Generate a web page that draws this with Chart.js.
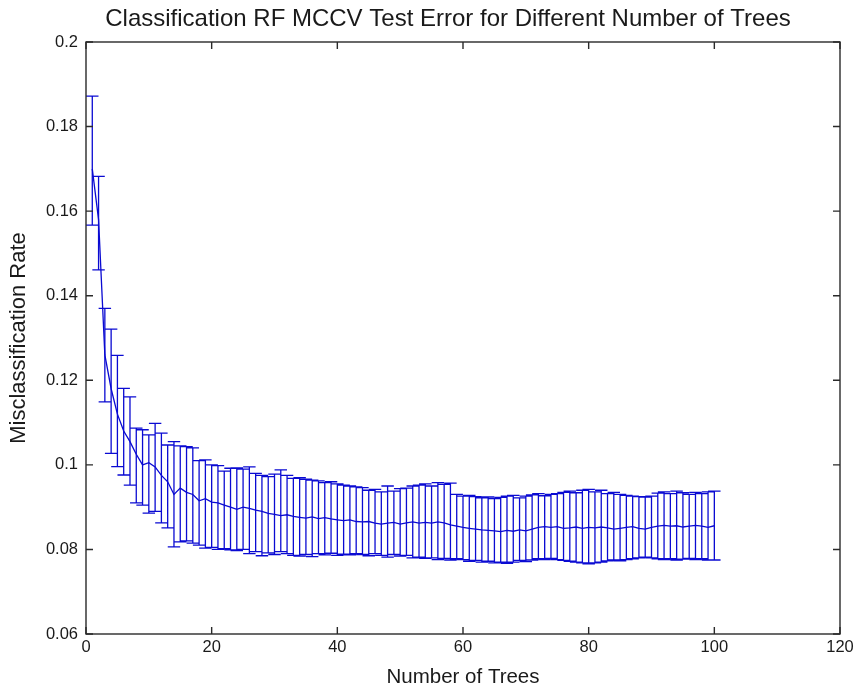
<!DOCTYPE html>
<html>
<head>
<meta charset="utf-8">
<script src="https://cdn.jsdelivr.net/npm/chart.js@4/dist/chart.umd.min.js"></script>
<style>
html,body{margin:0;padding:0;background:#fff;}
#wrap{width:854px;height:692px;position:relative;}
</style>
</head>
<body>
<div id="wrap"><canvas id="c" width="854" height="692"></canvas></div>
<script>
// ---- data ----
const trees = Array.from({length: 100}, (_, i) => i + 1);
const meanErr = [
0.1700,0.1580,0.1260,0.1180,0.1120,0.1080,0.1055,0.1025,0.1000,0.1005,
0.0995,0.0975,0.0960,0.0930,0.0945,0.0935,0.0930,0.0915,0.0920,0.0912,
0.0910,0.0905,0.0900,0.0895,0.0900,0.0897,0.0893,0.0890,0.0885,0.0883,
0.0880,0.0882,0.0878,0.0876,0.0874,0.0877,0.0873,0.0875,0.0872,0.0870,
0.0868,0.0870,0.0866,0.0865,0.0866,0.0862,0.0860,0.0862,0.0864,0.0860,
0.0863,0.0865,0.0862,0.0864,0.0862,0.0865,0.0863,0.0858,0.0855,0.0852,
0.0850,0.0848,0.0846,0.0845,0.0844,0.0842,0.0845,0.0843,0.0846,0.0844,
0.0848,0.0852,0.0854,0.0852,0.0854,0.0850,0.0851,0.0853,0.0850,0.0852,
0.0851,0.0853,0.0851,0.0848,0.0850,0.0852,0.0854,0.0850,0.0848,0.0852,
0.0855,0.0857,0.0855,0.0856,0.0853,0.0855,0.0857,0.0855,0.0852,0.0856
];
const upperErr = [
0.1872,0.1682,0.1370,0.1321,0.1259,0.1181,0.1161,0.1087,0.1083,0.1071,
0.1098,0.1075,0.1047,0.1055,0.1045,0.1043,0.1040,0.1010,0.1012,0.1000,
0.0998,0.0985,0.0992,0.0993,0.0990,0.0995,0.0980,0.0975,0.0972,0.0978,
0.0988,0.0975,0.0968,0.0970,0.0966,0.0964,0.0962,0.0958,0.0960,0.0955,
0.0952,0.0950,0.0948,0.0946,0.0940,0.0942,0.0936,0.0950,0.0938,0.0944,
0.0945,0.0950,0.0952,0.0955,0.0950,0.0958,0.0954,0.0957,0.0930,0.0926,
0.0928,0.0925,0.0922,0.0924,0.0920,0.0923,0.0926,0.0928,0.0922,0.0926,
0.0929,0.0932,0.0927,0.0930,0.0932,0.0935,0.0938,0.0934,0.0940,0.0942,
0.0936,0.0940,0.0932,0.0935,0.0930,0.0928,0.0926,0.0925,0.0924,0.0926,
0.0933,0.0936,0.0932,0.0938,0.0934,0.0930,0.0935,0.0932,0.0936,0.0938
];
const lowerErr = [
0.1567,0.1461,0.1149,0.1027,0.0996,0.0976,0.0952,0.0910,0.0905,0.0886,
0.0890,0.0863,0.0851,0.0806,0.0818,0.0820,0.0815,0.0810,0.0803,0.0805,
0.0800,0.0802,0.0799,0.0797,0.0800,0.0790,0.0795,0.0785,0.0792,0.0788,
0.0795,0.0790,0.0786,0.0784,0.0788,0.0783,0.0790,0.0787,0.0791,0.0786,
0.0789,0.0787,0.0790,0.0788,0.0785,0.0790,0.0786,0.0782,0.0788,0.0784,
0.0786,0.0780,0.0782,0.0779,0.0780,0.0776,0.0779,0.0775,0.0778,0.0776,
0.0772,0.0774,0.0770,0.0772,0.0768,0.0770,0.0767,0.0770,0.0774,0.0771,
0.0775,0.0778,0.0776,0.0779,0.0776,0.0774,0.0772,0.0770,0.0768,0.0766,
0.0768,0.0770,0.0773,0.0775,0.0773,0.0776,0.0778,0.0780,0.0782,0.0780,
0.0778,0.0776,0.0778,0.0775,0.0777,0.0779,0.0776,0.0778,0.0775,0.0775
];
const xTicks = [0, 20, 40, 60, 80, 100, 120];
const yTicks = [0.06, 0.08, 0.1, 0.12, 0.14, 0.16, 0.18, 0.2];
const titleText = 'Classification RF MCCV Test Error for Different Number of Trees';
const xLabel = 'Number of Trees';
const yLabel = 'Misclassification Rate';

const BLUE = '#0a0ad2';
const TXT = '#1a1a1a';
const FONT = '"Liberation Sans", Arial, sans-serif';

const errorBarPlugin = {
  id: 'errorBars',
  afterDatasetsDraw(chart) {
    const {ctx, scales: {x, y}} = chart;
    const tee = (trees[trees.length - 1] - trees[0]) / 100;
    ctx.save();
    ctx.strokeStyle = BLUE;
    ctx.lineWidth = 1.3;
    ctx.beginPath();
    trees.forEach((t, i) => {
      const px = x.getPixelForValue(t);
      const pl = x.getPixelForValue(t - tee);
      const pr = x.getPixelForValue(t + tee);
      const pu = y.getPixelForValue(upperErr[i]);
      const pd = y.getPixelForValue(lowerErr[i]);
      ctx.moveTo(px, pu); ctx.lineTo(px, pd);
      ctx.moveTo(pl, pu); ctx.lineTo(pr, pu);
      ctx.moveTo(pl, pd); ctx.lineTo(pr, pd);
    });
    ctx.stroke();
    ctx.restore();
  }
};

const boxPlugin = {
  id: 'matlabBox',
  afterDraw(chart) {
    const {ctx, chartArea: a, scales: {x, y}} = chart;
    const tl = 7;
    ctx.save();
    ctx.strokeStyle = '#2a2a2a';
    ctx.lineWidth = 1.4;
    ctx.strokeRect(a.left, a.top, a.right - a.left, a.bottom - a.top);
    ctx.beginPath();
    xTicks.forEach(v => {
      const p = x.getPixelForValue(v);
      ctx.moveTo(p, a.bottom); ctx.lineTo(p, a.bottom - tl);
      ctx.moveTo(p, a.top); ctx.lineTo(p, a.top + tl);
    });
    yTicks.forEach(v => {
      const p = y.getPixelForValue(v);
      ctx.moveTo(a.left, p); ctx.lineTo(a.left + tl, p);
      ctx.moveTo(a.right, p); ctx.lineTo(a.right - tl, p);
    });
    ctx.stroke();
    ctx.fillStyle = TXT;
    ctx.textAlign = 'center';
    // title
    ctx.font = '24px ' + FONT;
    ctx.textBaseline = 'alphabetic';
    ctx.fillText(titleText, 448, 26);
    // x label
    ctx.font = '20.5px ' + FONT;
    ctx.textBaseline = 'middle';
    ctx.fillText(xLabel, (a.left + a.right) / 2, 677);
    // y label
    ctx.font = '22px ' + FONT;
    ctx.translate(19, (a.top + a.bottom) / 2);
    ctx.rotate(-Math.PI / 2);
    ctx.fillText(yLabel, 0, 0);
    ctx.restore();
  }
};

new Chart(document.getElementById('c'), {
  type: 'line',
  data: {
    datasets: [{
      data: trees.map((t, i) => ({x: t, y: meanErr[i]})),
      borderColor: BLUE,
      borderWidth: 1.3,
      pointRadius: 0,
      tension: 0,
      fill: false
    }]
  },
  options: {
    responsive: false,
    animation: false,
    events: [],
    layout: {padding: {top: 42, right: 14, left: 0, bottom: 0}},
    plugins: {legend: {display: false}, tooltip: {enabled: false}, title: {display: false}},
    scales: {
      x: {
        type: 'linear', min: 0, max: 120,
        afterBuildTicks: s => { s.ticks = xTicks.map(v => ({value: v})); },
        afterFit: s => { s.height = 58; s.paddingLeft = 0; s.paddingRight = 0; },
        grid: {display: false, drawTicks: false},
        border: {display: false},
        ticks: {color: TXT, font: {family: FONT, size: 16.5}, padding: 4, maxRotation: 0,
                callback: v => String(v)},
        title: {display: false}
      },
      y: {
        type: 'linear', min: 0.06, max: 0.2,
        afterBuildTicks: s => { s.ticks = yTicks.map(v => ({value: v})); },
        afterFit: s => { s.width = 86; s.paddingTop = 0; s.paddingBottom = 0; },
        grid: {display: false, drawTicks: false},
        border: {display: false},
        ticks: {color: TXT, font: {family: FONT, size: 16.5}, padding: 8,
                callback: v => String(Number(v.toFixed(2)))},
        title: {display: false}
      }
    }
  },
  plugins: [errorBarPlugin, boxPlugin]
});
</script>
</body>
</html>
